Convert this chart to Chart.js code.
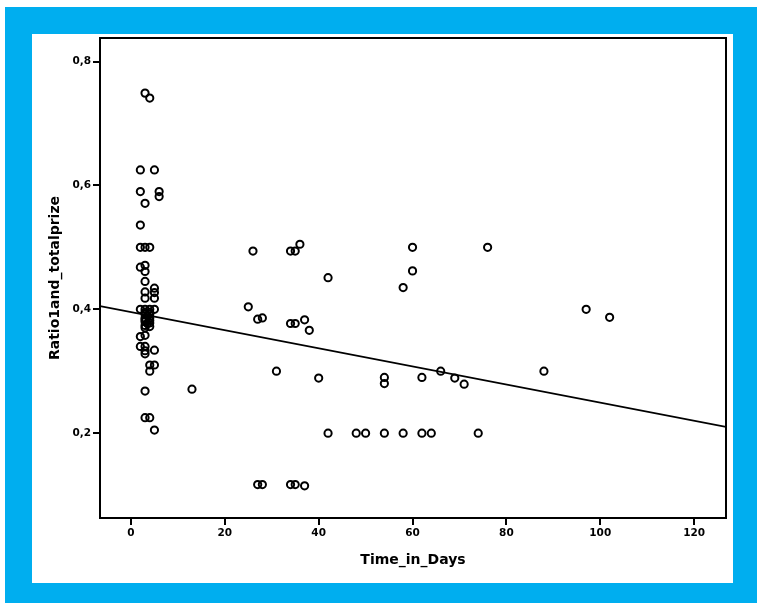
<!DOCTYPE html>
<html>
<head>
<meta charset="utf-8">
<script src="https://cdn.jsdelivr.net/npm/chart.js@4"></script>
<style>
  body { margin: 0; background: #fff; }
  .frame { position: absolute; left: 5px; top: 7px; width: 752px; height: 596px; background: #00AEEF; }
  .inner { position: absolute; left: 32px; top: 34px; width: 701px; height: 549px; background: #fff; }
  #chart { position: absolute; left: 0; top: 0; }
</style>
</head>
<body>
<div class="frame"></div>
<div class="inner"></div>
<canvas id="chart" width="757" height="603"></canvas>
<script>
// данные
const days = [
  3, 4, 2, 5, 2, 6, 6, 3, 2, 2, 3, 4, 2, 3, 3, 3, 5, 5, 3, 5, 3,
  2, 3, 4, 5, 3, 4, 3, 4, 3, 4, 3, 2, 3, 2, 3, 3, 3, 5, 4, 5, 4,
  3, 4, 3, 4, 3, 4, 3.5, 3.5,
  3, 3, 4, 5, 13,
  26, 34, 35, 36, 42, 25, 27, 28, 34, 35, 37, 38, 31, 40,
  42, 48, 50, 54, 58, 62, 64, 74,
  27, 28, 34, 35, 37,
  60, 76, 60, 58, 54, 54, 62, 66, 69, 71, 88, 97, 102,
];
const ratios = [
  0.749, 0.741, 0.625, 0.625, 0.590, 0.590, 0.582, 0.571, 0.536, 0.500, 0.500, 0.500, 0.468, 0.471, 0.461, 0.445, 0.434, 0.427, 0.428, 0.418, 0.418,
  0.400, 0.400, 0.400, 0.400, 0.392, 0.392, 0.386, 0.386, 0.380, 0.378, 0.374, 0.356, 0.358, 0.340, 0.340, 0.333, 0.328, 0.334, 0.310, 0.310, 0.300,
  0.395, 0.395, 0.383, 0.382, 0.370, 0.372, 0.389, 0.377,
  0.268, 0.225, 0.225, 0.205, 0.271,
  0.494, 0.494, 0.494, 0.505, 0.451, 0.404, 0.384, 0.386, 0.377, 0.377, 0.383, 0.366, 0.300, 0.289,
  0.200, 0.200, 0.200, 0.200, 0.200, 0.200, 0.200, 0.200,
  0.117, 0.117, 0.117, 0.117, 0.115,
  0.500, 0.500, 0.462, 0.435, 0.290, 0.280, 0.290, 0.300, 0.289, 0.279, 0.300, 0.400, 0.387,
];
// линия регрессии: концы
const fitX = [-6.6, 126.8];
const fitY = [0.405, 0.21];
const xTicks = [0, 20, 40, 60, 80, 100, 120];
const yTicks = [0.2, 0.4, 0.6, 0.8];

// рамка вокруг поля диаграммы
const chartAreaBorder = {
  id: 'chartAreaBorder',
  afterDraw(chart) {
    const { ctx, chartArea: { left, top, width, height } } = chart;
    ctx.save();
    ctx.strokeStyle = '#000';
    ctx.lineWidth = 2;
    ctx.strokeRect(left, top, width, height);
    ctx.restore();
  },
};

const tickFont = { family: 'DejaVu Sans', size: 10.5, weight: 'bold' };
const titleFont = { family: 'DejaVu Sans', size: 14, weight: 'bold' };

new Chart(document.getElementById('chart'), {
  type: 'scatter',
  data: {
    datasets: [
      {
        data: days.map((d, i) => ({ x: d, y: ratios[i] })),
        pointRadius: 3.6,
        pointBorderWidth: 2,
        pointBorderColor: '#000',
        pointBackgroundColor: 'rgba(0,0,0,0)',
        pointStyle: 'circle',
      },
      {
        data: fitX.map((x, i) => ({ x, y: fitY[i] })),
        showLine: true,
        borderColor: '#000',
        borderWidth: 1.7,
        pointRadius: 0,
      },
    ],
  },
  options: {
    responsive: false,
    animation: false,
    layout: { padding: { left: 40, top: 38, right: 31, bottom: 30 } },
    plugins: { legend: { display: false }, tooltip: { enabled: false } },
    scales: {
      x: {
        min: fitX[0],
        max: fitX[1],
        afterBuildTicks: (s) => { s.ticks = xTicks.map((v) => ({ value: v })); },
        afterFit: (s) => { s.height = 55; },
        border: { display: true, color: '#000', width: 2 },
        grid: { drawOnChartArea: false, drawTicks: true, tickLength: 7, color: '#000', lineWidth: 2 },
        ticks: { color: '#000', font: tickFont, padding: 2, maxRotation: 0 },
        title: { display: true, text: 'Time_in_Days', color: '#000', font: titleFont, padding: { top: 0, bottom: 4.6 } },
      },
      y: {
        min: 0.063,
        max: 0.838,
        afterBuildTicks: (s) => { s.ticks = yTicks.map((v) => ({ value: v })); },
        afterFit: (s) => { s.width = 60; },
        border: { display: true, color: '#000', width: 2 },
        grid: { drawOnChartArea: false, drawTicks: true, tickLength: 7, color: '#000', lineWidth: 2 },
        ticks: {
          color: '#000',
          font: tickFont,
          padding: 2,
          callback: (v) => v.toFixed(1).replace('.', ','),
        },
        title: { display: true, text: 'Ratio1and_totalprize', color: '#000', font: titleFont, padding: { top: 7, bottom: 0 } },
      },
    },
  },
  plugins: [chartAreaBorder],
});
</script>
</body>
</html>
